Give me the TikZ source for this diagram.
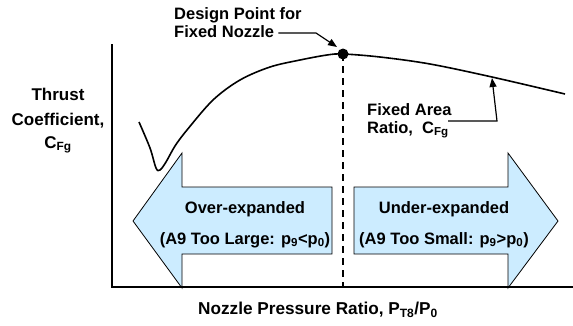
\documentclass[tikz,border=0pt]{standalone}
\usepackage{fontspec}
\setmainfont{Liberation Sans}
\usetikzlibrary{arrows.meta}
\definecolor{arrowblue}{RGB}{204,236,255}
\begin{document}
\begin{tikzpicture}[x=1pt,y=-1pt,
  lbl/.style={font=\bfseries\fontsize{16.5}{19}\selectfont, inner sep=0pt},
  axislbl/.style={font=\bfseries\fontsize{17}{20}\selectfont, inner sep=0pt},
  xlbl/.style={font=\bfseries\fontsize{17.2}{20}\selectfont, inner sep=0pt},
  bigarrow/.style={draw=black, line width=0.8pt, fill=arrowblue},
  axis/.style={line width=2.2pt},
  curve/.style={line width=1.6pt},
  pointer/.style={line width=1.2pt, -{Triangle[length=9pt,width=7pt]}}]
\useasboundingbox (0,0) rectangle (573,325);
% big arrows
\draw[bigarrow] (133,221) -- (182,153) -- (182,187) -- (332,187) -- (332,254) -- (182,254) -- (182,288) -- cycle;
\draw[bigarrow] (558,221) -- (508,153) -- (508,187) -- (354,187) -- (354,254) -- (508,254) -- (508,288) -- cycle;
% axes
\coordinate (origin) at (112,287);
\coordinate (ytop) at (112,44);
\coordinate (xend) at (573,287);
\draw[axis] (ytop) -- (origin) -- (xend);
% design point
\coordinate (dp) at (343,54);
\coordinate (dpfoot) at (343,287);
\draw[line width=1.6pt, dash pattern=on 7pt off 5pt] (dp) -- (dpfoot);
% curve
\draw[curve] plot[smooth, tension=0.55] coordinates {(139,122) (150,148) (156,168) (160,170) (166,162) (175,146) (187,130) (213,100) (240,80) (270,67) (300,60) (327,55) (343,54) (380,57) (430,64) (492,77) (565,94)};
\coordinate (curvept) at (492,78);
\fill (dp) circle (5.5pt);
% texts
\node[lbl, anchor=base west] (dptext1) at (174,19) {Design Point for};
\node[lbl, anchor=base west] (dptext2) at (174,37) {Fixed Nozzle};
\coordinate (dpbend) at (316,33);
\draw[pointer] ([xshift=4pt]dptext2.east |- 0,33) -- (dpbend) -- (337,47);
\node[axislbl, anchor=base] (t1) at (58,100) {Thrust};
\node[axislbl, anchor=base] (t2) at (58,125) {Coefficient,};
\node[axislbl, anchor=base] (t3) at (58,148) {C\textsubscript{Fg}};
\node[lbl, anchor=base west] (fa1) at (367,115) {Fixed Area};
\node[lbl, anchor=base west] (fa2) at (367,133) {Ratio,\ \ C\textsubscript{Fg}};
\coordinate (fabend) at (497,121);
\draw[pointer] (448,121) -- (fabend) -- (curvept);
\node[lbl, anchor=base] (over) at (245,213) {Over-expanded};
\node[lbl, anchor=base] (overb) at (245,244) {(A9 Too Large: p\textsubscript{9}<p\textsubscript{0})};
\node[lbl, anchor=base] (under) at (444,213) {Under-expanded};
\node[lbl, anchor=base] (underb) at (444,244) {(A9 Too Small: p\textsubscript{9}>p\textsubscript{0})};
\node[xlbl, anchor=base] (xlabel) at (318,314.5) {Nozzle Pressure Ratio, P\textsubscript{T8}/P\textsubscript{0}};
\end{tikzpicture}
\end{document}
